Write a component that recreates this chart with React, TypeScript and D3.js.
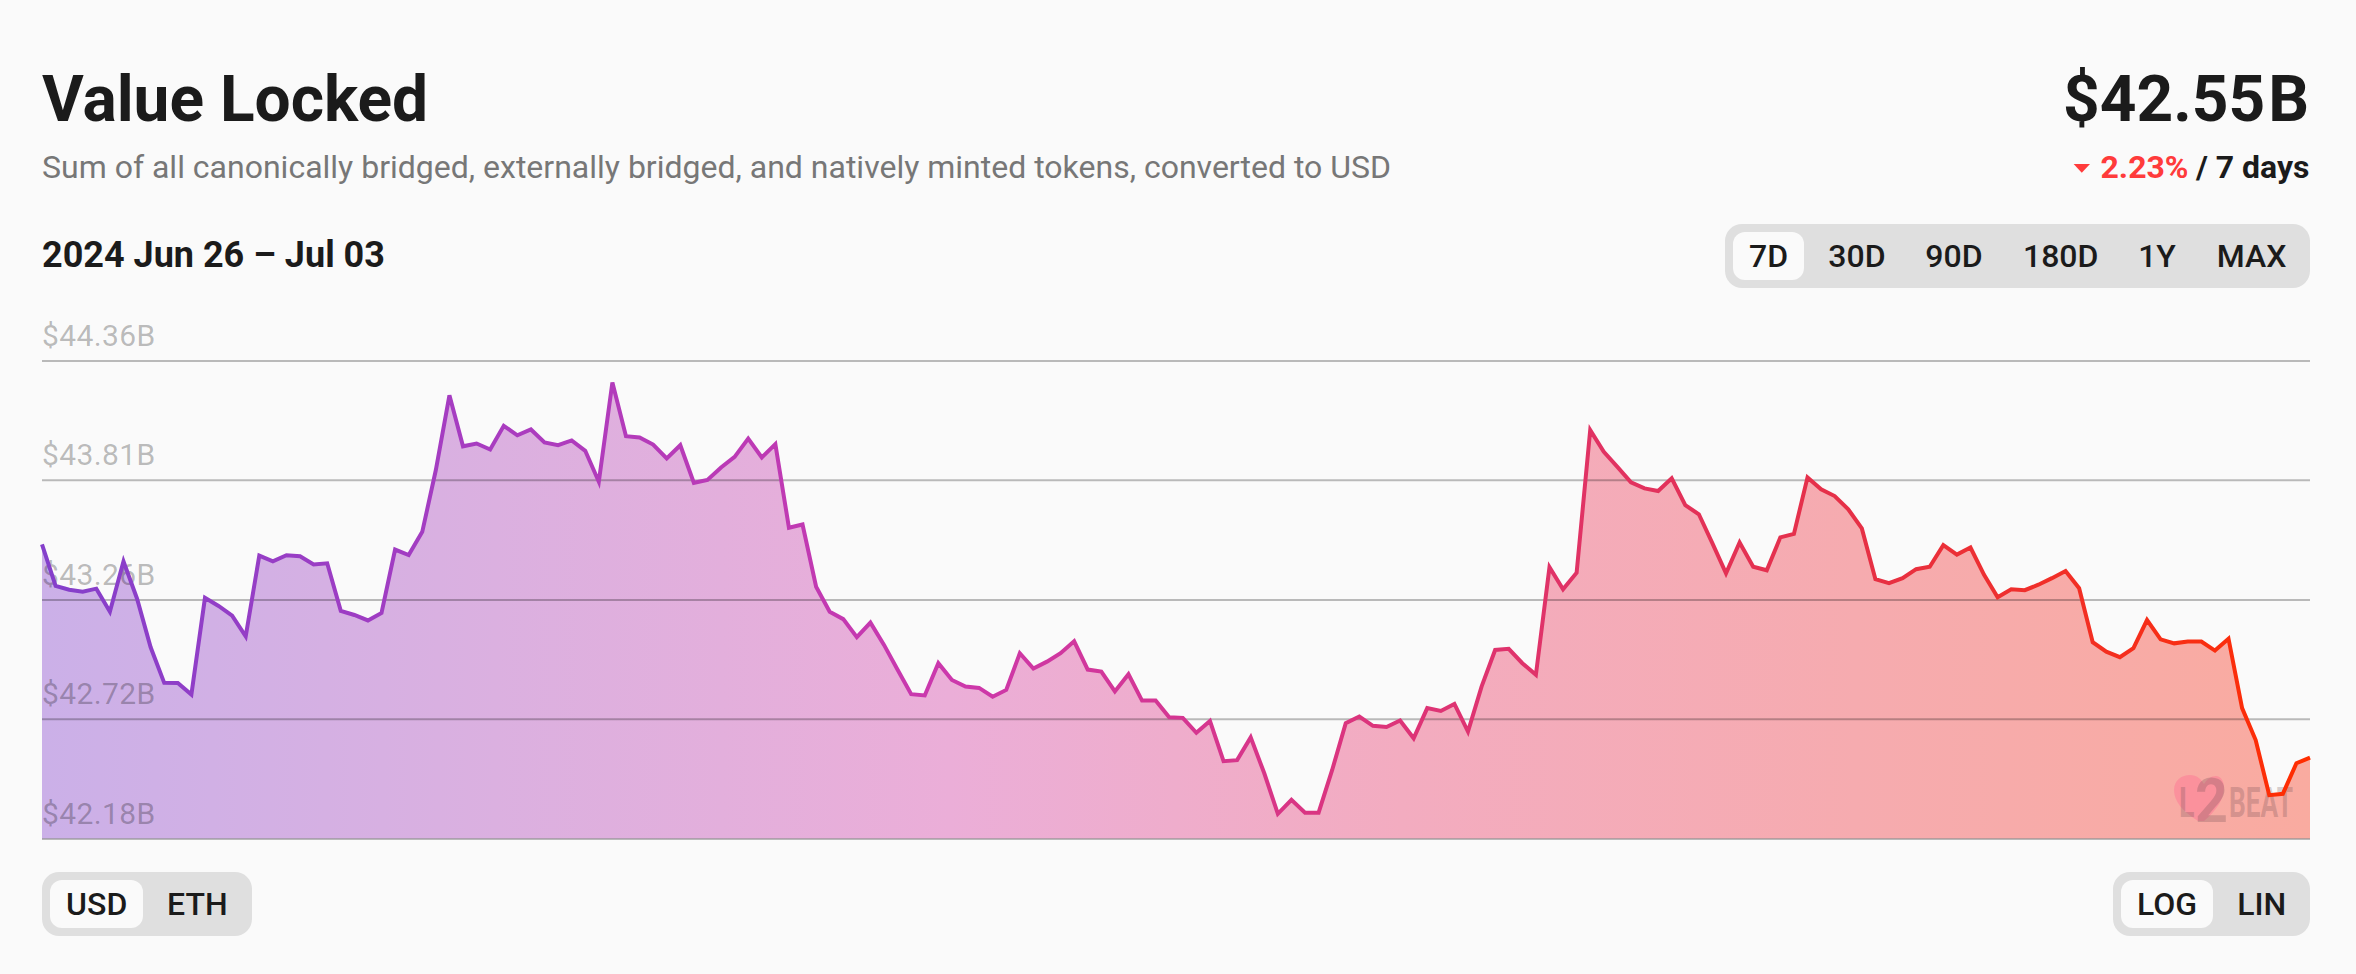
import React, { useRef, useEffect } from 'react';
import * as d3 from 'd3';

// hourly total value locked, $B
const tvl = [
  43.509, 43.319, 43.301, 43.292, 43.306, 43.201, 43.431, 43.26, 43.039, 42.878, 42.877, 42.825,
  43.264, 43.227, 43.183, 43.089, 43.457, 43.431, 43.459, 43.454, 43.417, 43.422, 43.205, 43.186,
  43.161, 43.195, 43.485, 43.46, 43.566, 43.851, 44.198, 43.961, 43.974, 43.946, 44.056, 44.012,
  44.039, 43.979, 43.966, 43.988, 43.94, 43.797, 44.258, 44.008, 44.002, 43.969, 43.905, 43.966,
  43.792, 43.805, 43.863, 43.912, 43.997, 43.909, 43.971, 43.585, 43.6, 43.315, 43.201, 43.167,
  43.085, 43.151, 43.05, 42.937, 42.827, 42.821, 42.967, 42.891, 42.861, 42.855, 42.815, 42.846,
  43.012, 42.943, 42.974, 43.012, 43.066, 42.938, 42.929, 42.839, 42.917, 42.798, 42.798, 42.723,
  42.72, 42.653, 42.706, 42.525, 42.53, 42.632, 42.471, 42.29, 42.352, 42.295, 42.295, 42.486,
  42.696, 42.726, 42.684, 42.679, 42.708, 42.628, 42.764, 42.751, 42.783, 42.658, 42.861, 43.027,
  43.032, 42.967, 42.914, 43.404, 43.303, 43.379, 44.036, 43.935, 43.866, 43.794, 43.766, 43.754,
  43.813, 43.689, 43.647, 43.513, 43.376, 43.517, 43.406, 43.39, 43.541, 43.557, 43.817, 43.762,
  43.731, 43.67, 43.582, 43.349, 43.331, 43.354, 43.395, 43.406, 43.505, 43.462, 43.494, 43.369,
  43.267, 43.303, 43.299, 43.324, 43.354, 43.387, 43.308, 43.062, 43.019, 42.994, 43.035, 43.163,
  43.075, 43.057, 43.065, 43.065, 43.024, 43.078, 42.764, 42.62, 42.373, 42.379, 42.516, 42.541,
];
const yTicks = [42.18, 42.716, 43.257, 43.806, 44.36];
const yDomain = [42.18, 44.36];
const rangeOptions = ['7D', '30D', '90D', '180D', '1Y', 'MAX'];
const rangeCenters = [1768.6, 1857, 1954, 2060.7, 2157, 2251.5];
const lineStops = ['#843FCB', '#A93CC0', '#CC38AC', '#DD3478', '#E63046', '#FF2D00'];
const fillStops = ['#CBB0E8', '#DBB0E0', '#EBAED8', '#F3ACC0', '#F6ABAF', '#F9ABA0'];

const FONT = 'Roboto, sans-serif';
const INK = '#1B1B1B';

const Toggle = ({ x, y, w, h, ax, aw, labels, centers }: any) => (
  <g fontFamily={FONT} fontSize={32} fontWeight={500} fill={INK} textAnchor="middle">
    <rect x={x} y={y} width={w} height={h} rx={17} fill="#DFDFDF" />
    <rect x={ax} y={y + 8} width={aw} height={h - 16} rx={12} fill="#FAFAFA" />
    {labels.map((l: string, i: number) => (
      <text key={l} x={centers[i]} y={y + 42.5}>
        {l}
      </text>
    ))}
  </g>
);

const App = () => {
  const ref = useRef<SVGGElement | null>(null);

  useEffect(() => {
    if (!ref.current) return;
    const g = d3.select(ref.current);
    g.selectAll('*').remove();
    const left = 42;
    const right = 2310;
    const bottom = 838.5;
    const x = d3.scaleLinear().domain([0, tvl.length - 1]).range([left, right]);
    const y = d3.scaleLog().domain(yDomain).range([bottom, 360.6]);

    const defs = g.append('defs');
    const addGradient = (id: string, stops: string[]) => {
      const grad = defs
        .append('linearGradient')
        .attr('id', id)
        .attr('gradientUnits', 'userSpaceOnUse')
        .attr('x1', left)
        .attr('x2', right)
        .attr('y1', 0)
        .attr('y2', 0);
      stops.forEach((c, i) => {
        grad.append('stop').attr('offset', i / (stops.length - 1)).attr('stop-color', c);
      });
    };
    addGradient('tvl-line', lineStops);
    addGradient('tvl-fill', fillStops);

    const area = d3
      .area<number>()
      .x((_, i) => x(i))
      .y0(bottom)
      .y1((d) => y(d));
    const line = d3
      .line<number>()
      .x((_, i) => x(i))
      .y((d) => y(d));

    g.append('path').datum(tvl).attr('fill', 'url(#tvl-fill)').attr('d', area);

    const axis = g
      .append('g')
      .attr('transform', `translate(${left},0)`)
      .call(
        d3
          .axisRight(y)
          .tickValues(yTicks)
          .tickSize(right - left)
          .tickFormat((d) => `$${Number(d).toFixed(2)}B`)
      );
    axis.select('.domain').remove();
    axis.selectAll('.tick line').attr('stroke', '#000').attr('stroke-opacity', 0.26).attr('stroke-width', 2);
    axis
      .selectAll('.tick text')
      .attr('x', 0)
      .attr('y', -15)
      .attr('dy', 0)
      .attr('font-family', FONT)
      .attr('font-size', 30)
      .attr('letter-spacing', 0.4)
      .attr('fill', '#000')
      .attr('fill-opacity', 0.27);

    // watermark
    const mark = g.append('g').attr('transform', 'translate(2174,775)');
    mark
      .append('path')
      .attr('d', 'M 24 46 C 8 36 0 26 0 15 C 0 5 8 0 16 0 C 23 0 27 4 30 9 C 33 4 37 1 42 1 C 47 1 50 6 50 13 C 50 24 42 36 30 46 Z')
      .attr('fill', '#FF6C90')
      .attr('fill-opacity', 0.4);
    const markText = (t: string, tx: number, ty: number, size: number, len: number) =>
      mark
        .append('text')
        .attr('x', tx)
        .attr('y', ty)
        .attr('font-family', FONT)
        .attr('font-weight', 700)
        .attr('font-size', size)
        .attr('textLength', len)
        .attr('lengthAdjust', 'spacingAndGlyphs')
        .attr('fill', '#6A4A50')
        .attr('fill-opacity', 0.26)
        .text(t);
    markText('L', 5, 42, 42, 15.5);
    markText('2', 21, 47, 62, 33);
    markText('BEAT', 55, 42, 42, 64);

    g.append('path')
      .datum(tvl)
      .attr('fill', 'none')
      .attr('stroke', 'url(#tvl-line)')
      .attr('stroke-width', 4)
      .attr('stroke-linejoin', 'miter')
      .attr('d', line);
  }, []);

  return (
    <svg
      width={2356}
      height={974}
      style={{ position: 'absolute', left: 0, top: 0, display: 'block' }}
    >
      <rect width={2356} height={974} fill="#FAFAFA" />
      <g fontFamily={FONT}>
        <text x={42} y={120.5} fontSize={64} fontWeight={700} fill={INK}>
          Value Locked
        </text>
        <text x={42} y={178} fontSize={32} fill="#777">
          Sum of all canonically bridged, externally bridged, and natively minted tokens, converted to USD
        </text>
        <text x={42} y={266.5} fontSize={36} fontWeight={700} fill={INK}>
          2024 Jun 26 – Jul 03
        </text>
        <text x={2309} y={120.5} fontSize={64} fontWeight={700} fill={INK} textAnchor="end">
          $42.55<tspan dx={3}>B</tspan>
        </text>
        <path d="M 2073.6 164 L 2090 164 L 2081.8 172.7 Z" fill="#FF3B3B" />
        <text x={2100.5} y={178} fontSize={32} fontWeight={700} fill="#FF3B3B">
          2.23%
        </text>
        <text x={2309.5} y={178} fontSize={32} fontWeight={700} fill={INK} textAnchor="end">
          / 7 days
        </text>
      </g>
      <Toggle x={1725} y={224} w={585} h={64} ax={1733} aw={71} labels={rangeOptions} centers={rangeCenters} />
      <g ref={ref} />
      <Toggle x={42} y={872} w={210} h={64} ax={50} aw={93} labels={['USD', 'ETH']} centers={[96.7, 197.3]} />
      <Toggle x={2113} y={872} w={197} h={64} ax={2121} aw={92} labels={['LOG', 'LIN']} centers={[2167, 2261.7]} />
    </svg>
  );
};

export default App;
